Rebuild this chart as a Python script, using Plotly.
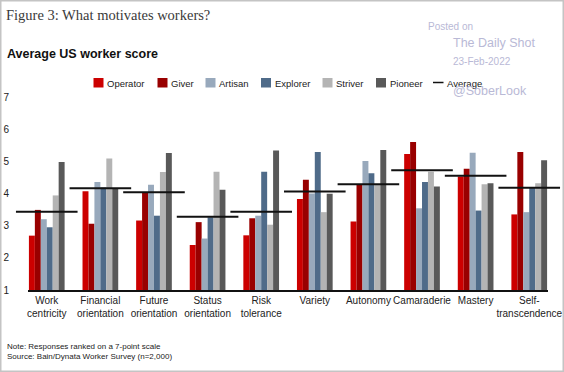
import plotly.graph_objects as go

categories = ["Work<br>centricity", "Financial<br>orientation", "Future<br>orientation",
              "Status<br>orientation", "Risk<br>tolerance", "Variety", "Autonomy",
              "Camaraderie", "Mastery", "Self-<br>transcendence"]

series_names = ["Operator", "Giver", "Artisan", "Explorer", "Striver", "Pioneer"]
series_colors = ["#cc0000", "#990000", "#98a9bc", "#4f6b89", "#b4b4b4", "#595959"]

operator = [2.69, 4.07, 3.16, 2.40, 2.70, 3.83, 3.13, 5.23, 4.53, 3.35]
giver    = [3.49, 3.06, 4.03, 3.11, 3.23, 4.43, 4.27, 5.60, 4.77, 5.29]
artisan  = [3.20, 4.36, 4.27, 2.60, 3.31, 4.00, 5.01, 3.54, 5.27, 3.42]
explorer = [2.95, 4.19, 3.31, 3.26, 4.68, 5.29, 4.63, 4.36, 3.47, 4.18]
striver  = [3.94, 5.09, 4.67, 4.68, 3.03, 3.42, 4.27, 4.68, 4.29, 4.32]
pioneer  = [4.98, 4.17, 5.26, 4.12, 5.34, 3.99, 5.35, 4.22, 4.32, 5.03]
average  = [3.43, 4.16, 4.04, 3.28, 3.43, 4.06, 4.29, 4.72, 4.55, 4.18]

y_ticks = [1, 2, 3, 4, 5, 6, 7]

series_values = [operator, giver, artisan, explorer, striver, pioneer]

W, H = 564, 372
ML, MR, MT, MB = 28, 16, 97, 82
PW, PH = W - ML - MR, H - MT - MB


def px(xp):
    return (xp - ML) / PW


def py(yp):
    return (H - MB - yp) / PH


fig = go.Figure()
for name, color, vals in zip(series_names, series_colors, series_values):
    fig.add_trace(go.Bar(x=categories, y=vals, name=name, marker_color=color,
                         marker_line_width=0, showlegend=False))

fig.add_trace(go.Scatter(x=categories, y=average, mode="markers", name="Average",
                         marker=dict(symbol="line-ew", size=44,
                                     line=dict(color="#111111", width=2)),
                         cliponaxis=False, showlegend=False))

font_sans = "Liberation Sans, Arial, sans-serif"
annotations = []
shapes = []

# Titles
annotations.append(dict(text="Figure 3: What motivates workers?", x=px(5), y=py(15),
                        xref="paper", yref="paper", xanchor="left", yanchor="middle",
                        showarrow=False, borderpad=0,
                        font=dict(family="Liberation Serif, Times New Roman, serif",
                                  size=14.5, color="#3a3a3a")))
annotations.append(dict(text="<b>Average US worker score</b>", x=px(5.5), y=py(53.5),
                        xref="paper", yref="paper", xanchor="left", yanchor="middle",
                        showarrow=False, borderpad=0,
                        font=dict(family=font_sans, size=12.5, color="#111111")))

# Custom legend
legend_x = [93.5, 157.5, 205.5, 261, 322.5, 376]
for name, color, lx in zip(series_names, series_colors, legend_x):
    shapes.append(dict(type="rect", xref="paper", yref="paper",
                       x0=px(lx), x1=px(lx + 10), y0=py(87.5), y1=py(78),
                       fillcolor=color, line=dict(width=0)))
    annotations.append(dict(text=name, x=px(lx + 12.5), y=py(83), xref="paper", yref="paper",
                            xanchor="left", yanchor="middle", showarrow=False, borderpad=0,
                            font=dict(family=font_sans, size=9.5, color="#222222")))
shapes.append(dict(type="line", xref="paper", yref="paper", x0=px(433), x1=px(443.5),
                   y0=py(82.5), y1=py(82.5), line=dict(color="#111111", width=1.5)))
annotations.append(dict(text="Average", x=px(445.5), y=py(83), xref="paper", yref="paper",
                        xanchor="left", yanchor="middle", showarrow=False, borderpad=0,
                        font=dict(family=font_sans, size=9.5, color="#222222")))

# Footnotes
annotations.append(dict(text="Note: Responses ranked on a 7-point scale", x=px(5.5), y=py(346.5),
                        xref="paper", yref="paper", xanchor="left", yanchor="middle",
                        showarrow=False, borderpad=0,
                        font=dict(family=font_sans, size=8, color="#222222")))
annotations.append(dict(text="Source: Bain/Dynata Worker Survey (n=2,000)", x=px(5.5), y=py(356.5),
                        xref="paper", yref="paper", xanchor="left", yanchor="middle",
                        showarrow=False, borderpad=0,
                        font=dict(family=font_sans, size=8, color="#222222")))

# Watermark
wm_color = "#b9b9d6"
for txt, xx, yy, sz in [("Posted on", 427, 26.5, 10), ("The Daily Shot", 452, 43, 12.5),
                        ("23-Feb-2022", 452, 61, 10), ("@SoberLook", 452, 90.5, 12.5)]:
    annotations.append(dict(text=txt, x=px(xx), y=py(yy), xref="paper", yref="paper",
                            xanchor="left", yanchor="middle", showarrow=False, borderpad=0,
                            font=dict(family=font_sans, size=sz, color=wm_color)))

# Frame border
shapes.append(dict(type="rect", xref="paper", yref="paper", x0=px(0.75), x1=px(563.25),
                   y0=py(371.25), y1=py(0.75), line=dict(color="#c4c4c4", width=1.5),
                   fillcolor="rgba(0,0,0,0)", layer="above"))

fig.update_layout(
    width=W, height=H,
    margin=dict(l=ML, r=MR, t=MT, b=MB, pad=0, autoexpand=False),
    paper_bgcolor="white", plot_bgcolor="white",
    barmode="group", bargap=0.334, bargroupgap=0,
    showlegend=False,
    annotations=annotations, shapes=shapes,
    font=dict(family=font_sans, size=10, color="#222222"),
)
fig.update_xaxes(type="category", range=[-0.35, 9.35], showgrid=False, zeroline=False,
                 showline=True, linecolor="#111111", linewidth=2, ticks="", tickangle=0,
                 automargin=False,
                 tickfont=dict(family=font_sans, size=10, color="#222222"), fixedrange=True)
fig.update_yaxes(range=[1, 7], tickvals=y_ticks, showgrid=False, zeroline=False,
                 showline=False, ticks="", ticklabelstandoff=18, automargin=False,
                 tickfont=dict(family=font_sans, size=10, color="#222222"), fixedrange=True)

fig.write_html("out.html", config={"displayModeBar": False},
               post_script="document.body.style.margin='0';")
